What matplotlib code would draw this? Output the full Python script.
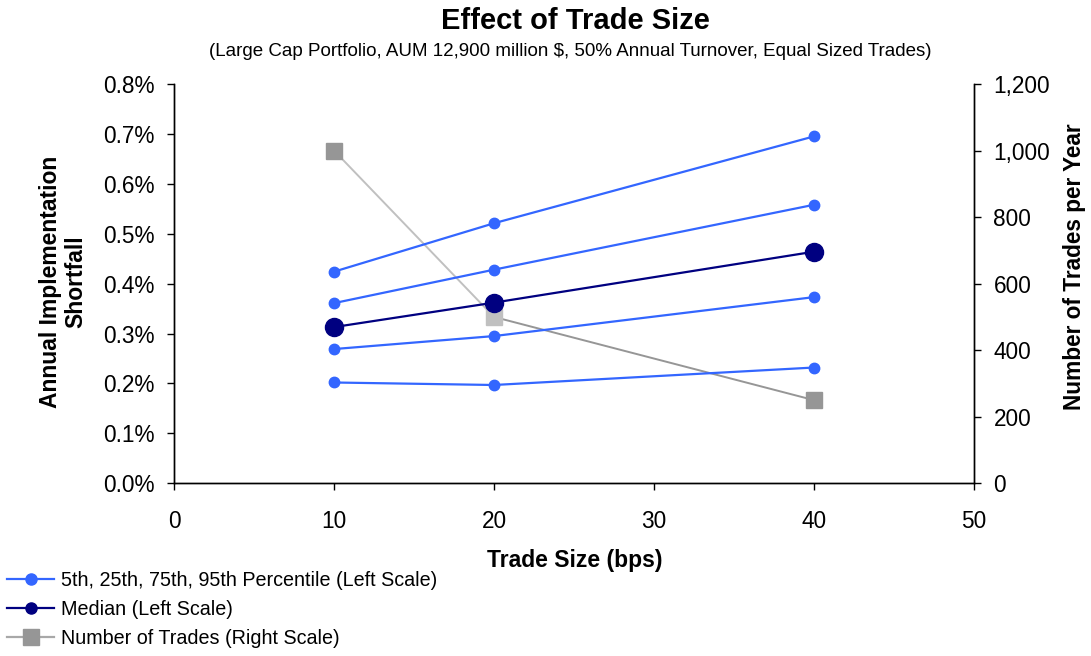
import matplotlib
matplotlib.use("Agg")
import matplotlib.pyplot as plt
from matplotlib.lines import Line2D
from matplotlib.ticker import FuncFormatter

plt.rcParams["font.family"] = ["Liberation Sans", "DejaVu Sans"]

# trade size in bps
trade_size = [10, 20, 40]

# annual implementation shortfall (%) per percentile
p95 = [0.424, 0.521, 0.695]
p75 = [0.361, 0.428, 0.558]
median = [0.313, 0.362, 0.464]
p25 = [0.269, 0.295, 0.373]
p5 = [0.202, 0.197, 0.232]

# number of trades per year (right scale)
trades = [1000, 500, 250]

BLUE = "#3366FF"
NAVY = "#000080"
GRAY = "#969696"
LIGHT_GRAY = "#C0C0C0"

W, H = 1091, 656
fig = plt.figure(figsize=(W / 100, H / 100), dpi=100)
ax = fig.add_axes([0.1595, 0.2632, 0.7332, 0.6088])
ax2 = ax.twinx()

# keep the percentile lines above the trade-count series
ax.set_zorder(ax2.get_zorder() + 1)
ax.patch.set_visible(False)

for series in (p95, p75, p25, p5):
    ax.plot(trade_size, series, color=BLUE, lw=1.6, marker="o", markersize=7.5,
            markerfacecolor=BLUE, markeredgecolor=BLUE)
ax.plot(trade_size, median, color=NAVY, lw=1.6, marker="o", markersize=13,
        markerfacecolor=NAVY, markeredgecolor=NAVY)

# trade counts: first segment/point in lighter gray
ax2.plot(trade_size[:2], trades[:2], color=LIGHT_GRAY, lw=1.4)
ax2.plot(trade_size[1:], trades[1:], color=GRAY, lw=1.4)
sq_colors = [GRAY, LIGHT_GRAY, GRAY]
for xv, yv, c in zip(trade_size, trades, sq_colors):
    ax2.plot([xv], [yv], marker="s", markersize=12, color=c, markeredgecolor=c, lw=0)

ax.set_xlim(0, 50)
ax.set_ylim(0, 0.8)
ax2.set_ylim(0, 1200)
ax.set_xticks(range(0, 51, 10))
ax.set_yticks([i / 10 for i in range(9)])
ax2.set_yticks(range(0, 1201, 200))
ax.yaxis.set_major_formatter(FuncFormatter(lambda v, _: f"{v:.1f}%"))
ax2.yaxis.set_major_formatter(FuncFormatter(lambda v, _: f"{v:,.0f}"))

for a in (ax, ax2):
    a.spines["top"].set_visible(False)
    for s in ("left", "right", "bottom"):
        a.spines[s].set_linewidth(1.0)
        a.spines[s].set_color("black")
    a.tick_params(axis="both", direction="out", length=5, width=1.0,
                  labelsize=16.3, colors="black", pad=9)
ax.tick_params(axis="x", pad=14)

# axis titles placed in figure pixels
fig.text(575 / W, 1 - 560 / H, "Trade Size (bps)", ha="center", va="center",
         fontsize=16.5, weight="bold")
fig.text(63 / W, 1 - 282 / H, "Annual Implementation\nShortfall", ha="center",
         va="center", rotation=90, fontsize=16.5, weight="bold", linespacing=1.1)
fig.text(1075 / W, 1 - 267 / H, "Number of Trades per Year", ha="center",
         va="center", rotation=90, fontsize=16.3, weight="bold")

fig.text(575 / W, 1 - 21 / H, "Effect of Trade Size", ha="center", va="center",
         fontsize=21, weight="bold")
fig.text(570 / W, 1 - 51 / H,
         "(Large Cap Portfolio, AUM 12,900 million $, 50% Annual Turnover, Equal Sized Trades)",
         ha="center", va="center", fontsize=13.5)

handles = [
    Line2D([0], [0], color=BLUE, lw=1.6, marker="o", markersize=8),
    Line2D([0], [0], color=NAVY, lw=1.6, marker="o", markersize=8),
    Line2D([0], [0], color="#A8A8A8", lw=1.6, marker="s", markersize=12,
           markerfacecolor=GRAY, markeredgecolor=GRAY),
]
labels = [
    "5th, 25th, 75th, 95th Percentile (Left Scale)",
    "Median (Left Scale)",
    "Number of Trades (Right Scale)",
]
fig.legend(handles, labels, loc="lower left", bbox_to_anchor=(7 / W, 1 - 648 / H),
           frameon=False, fontsize=14.2, handlelength=2.4, handletextpad=0.33,
           labelspacing=0.5, borderpad=0, borderaxespad=0)

fig.savefig("out.png", dpi=100)
